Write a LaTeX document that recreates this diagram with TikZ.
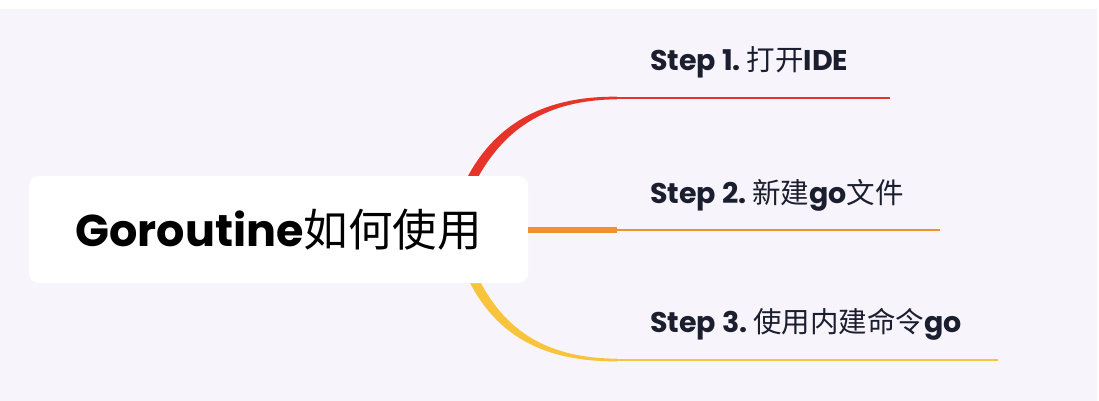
\documentclass[tikz,border=0pt]{standalone}
\usepackage{fontspec}
\setmainfont{Poppins}
\newfontfamily\cjk{Noto Sans CJK SC}
\usetikzlibrary{positioning, calc, backgrounds}
\definecolor{paper}{HTML}{F7F5FB}
\definecolor{ink}{HTML}{1B1E2F}
\definecolor{brred}{HTML}{E6342A}
\definecolor{brorange}{HTML}{F0912F}
\definecolor{bryellow}{HTML}{F8C43C}

\begin{document}
\begin{tikzpicture}[
x=1pt, y=-1pt,
 rootbox/.style = {%
      fill=white, rounded corners=10pt, inner sep=0pt,
      minimum width=499pt, minimum height=107pt,
      font=\fontsize{44.5}{44.5}\selectfont},
 steplbl/.style = {%
      anchor=base west, inner sep=0pt, text=ink,
      font=\fontsize{28.5}{28.5}\selectfont},
 twig/.style = {line width=2.6pt}
                    ]
\useasboundingbox (0,0) rectangle (1099,401);
%
\node(root) [rootbox] at (278.5,229.5)
      {{\bfseries Goroutine}{\cjk 如何使用}};
%
\node(s1) [steplbl] at (650,71) {{\bfseries Step 1.}\hspace{0.2em}{\cjk 打开}{\bfseries IDE}};
\node(s2) [steplbl] at (650,203) {{\bfseries Step 2.}\hspace{0.2em}{\cjk 新建}{\bfseries go}{\cjk 文件}};
\node(s3) [steplbl] at (650,332) {{\bfseries Step 3.}\hspace{0.2em}{\cjk 使用内建命令}{\bfseries go}};
%
\coordinate (b1) at (617,98);
\coordinate (e1) at (890,98);
\coordinate (b2) at (617,230);
\coordinate (e2) at (940,230);
\coordinate (b3) at (617,360);
\coordinate (e3) at (998,360);
%
\begin{pgfonlayer}{background}
\fill[white] (0,0) rectangle (1099,401);
\fill[paper] (0,9) rectangle (1097,401);
\fill[brred] ($(b1)+(0,-1.3)$) .. controls (540,96) and (485,127) .. (457,200)
      -- (467,200) .. controls (495,134) and (540,100) .. ($(b1)+(0,1.3)$) -- cycle;
\fill[bryellow] ($(b3)+(0,1.3)$) .. controls (540,362) and (487,333) .. (460,260)
      -- (470,260) .. controls (497,326) and (540,358) .. ($(b3)+(0,-1.3)$) -- cycle;
\end{pgfonlayer}
%
\draw[brorange, line width=6pt] (root.east|-b2) -- (b2);
\path   (b1) edge[twig, brred] (e1)
        (b2) edge[twig, brorange] (e2)
        (b3) edge[twig, bryellow] (e3);
\end{tikzpicture}
\end{document}
